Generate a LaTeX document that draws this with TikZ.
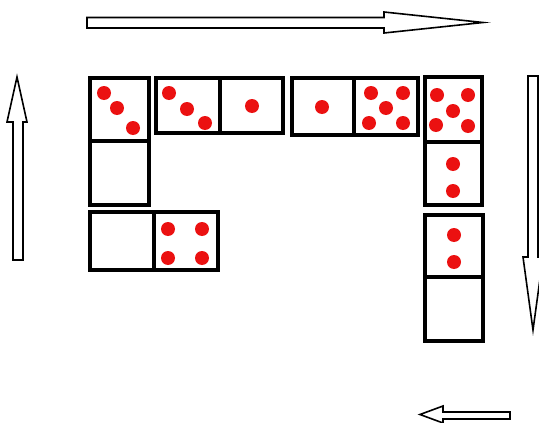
\documentclass[tikz,border=0pt]{standalone}
\begin{document}
\begin{tikzpicture}[x=1pt,y=-1pt,
  half/.style={draw=black,line width=4.5pt,fill=white},
  pip/.style={fill={rgb,255:red,235;green,17;blue,17},draw=none},
  blockarrow/.style={draw=black,line width=1.6pt,fill=white,line join=miter}]
\useasboundingbox (0,0) rectangle (539,423);
\begin{scope}
\clip (0,0) rectangle (539,423);
% arrows
\draw[blockarrow] (87,17.5) -- (384,17.5) -- (384,12) -- (483,22.5) -- (384,33) -- (384,28) -- (87,28) -- cycle;
\draw[blockarrow] (510,412) -- (443,412) -- (443,406) -- (420,414.5) -- (443,423) -- (443,419) -- (510,419) -- cycle;
\draw[blockarrow] (13,260) -- (13,122) -- (7,122) -- (17,77) -- (27,122) -- (23,122) -- (23,260) -- cycle;
\draw[blockarrow] (528,76) -- (528,257) -- (523,257) -- (533,330) -- (543,257) -- (538,257) -- (538,76) -- cycle;
\end{scope}
% dominoes
\def\pr{7}
% domino 1 vertical
\draw[half] (90,78) rectangle (149,141);
\draw[half] (90,141) rectangle (149,205);
\foreach \p in {(104,93),(117,108),(133,128)} \fill[pip] \p circle (\pr);
% domino 2
\draw[half] (156,78) rectangle (220,133);
\draw[half] (220,78) rectangle (283,133);
\foreach \p in {(169,93),(187,109),(205,123),(252,106)} \fill[pip] \p circle (\pr);
% domino 3
\draw[half] (292,78) rectangle (354,135);
\draw[half] (354,78) rectangle (418,135);
\foreach \p in {(322,107),(371,93),(403,93),(386,108),(369,123),(403,123)} \fill[pip] \p circle (\pr);
% domino 4
\draw[half] (425,77) rectangle (482,142);
\draw[half] (425,142) rectangle (482,205);
\foreach \p in {(437,95),(468,95),(453,111),(436,125),(468,126),(453,164),(453,191)} \fill[pip] \p circle (\pr);
% domino 5
\draw[half] (425,215) rectangle (483,277);
\draw[half] (425,277) rectangle (483,341);
\foreach \p in {(454,235),(454,262)} \fill[pip] \p circle (\pr);
% domino 6
\draw[half] (90,212) rectangle (154,270);
\draw[half] (154,212) rectangle (218,270);
\foreach \p in {(168,229),(202,229),(168,258),(202,258)} \fill[pip] \p circle (\pr);
\end{tikzpicture}
\end{document}
